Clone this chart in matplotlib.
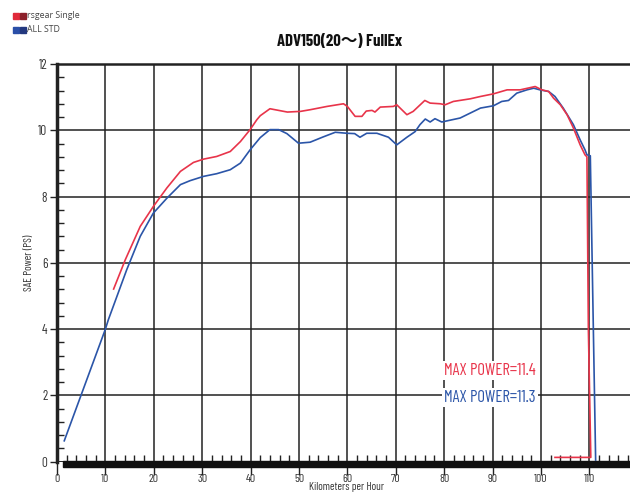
import matplotlib
matplotlib.use("Agg")
import matplotlib.pyplot as plt
from matplotlib.patches import Rectangle
from matplotlib.ticker import MultipleLocator

# ---- data ----
title = "ADV150(20～) FullEx"
series_names = ["rsgear Single", "ALL STD"]
max_labels = ["MAX POWER=11.4", "MAX POWER=11.3"]

red_kmh = [11.7, 14.1, 17.2, 19.9, 22.7, 25.5, 28.2, 30.3, 33.0, 35.8, 37.9, 39.9, 41.3,
           42.0, 44.0, 47.6, 50.3, 52.3, 55.8, 59.2, 60.0, 61.6, 63.0, 63.9, 65.1, 65.7,
           66.8, 69.5, 70.2, 72.3, 73.6, 76.0, 77.1, 79.2, 80.2, 81.9, 85.4, 87.5, 90.2,
           93.0, 95.7, 98.8, 100.2, 101.6, 102.6, 104.0, 105.4, 106.7, 108.1, 109.1, 109.5,
           109.8, 110.3, 110.3, 102.9]
red_ps = [5.21, 6.09, 7.10, 7.70, 8.26, 8.76, 9.03, 9.13, 9.21, 9.36, 9.66, 10.02, 10.32,
          10.44, 10.65, 10.55, 10.57, 10.62, 10.72, 10.80, 10.72, 10.42, 10.42, 10.58, 10.60, 10.55,
          10.70, 10.72, 10.77, 10.47, 10.57, 10.90, 10.82, 10.80, 10.77, 10.87, 10.95, 11.02, 11.10,
          11.22, 11.22, 11.32, 11.22, 11.17, 10.97, 10.77, 10.47, 10.07, 9.56, 9.26, 9.20,
          3.98, 0.13, 0.13, 0.13]

blue_kmh = [1.5, 10.0, 10.6, 14.4, 17.2, 19.9, 22.7, 25.5, 27.5, 30.3, 33.0, 35.8, 37.9, 39.9,
            42.0, 44.0, 45.8, 47.5, 49.9, 52.3, 55.0, 57.5, 59.9, 61.5, 62.6, 64.0, 66.1, 68.5,
            70.2, 72.3, 74.0, 75.0, 76.1, 77.1, 78.1, 79.5, 83.3, 85.4, 87.5, 90.2, 91.9, 93.3,
            95.0, 97.1, 98.5, 99.8, 101.6, 102.9, 104.6, 106.7, 108.1, 109.1, 109.5, 110.2, 111.3]
blue_ps = [0.63, 4.00, 4.28, 5.79, 6.80, 7.50, 7.95, 8.36, 8.48, 8.61, 8.69, 8.81, 9.01, 9.41,
           9.78, 10.02, 10.02, 9.90, 9.61, 9.64, 9.80, 9.94, 9.91, 9.90, 9.79, 9.91, 9.91, 9.79,
           9.56, 9.79, 9.96, 10.17, 10.34, 10.25, 10.35, 10.25, 10.37, 10.52, 10.67, 10.74, 10.87, 10.90,
           11.12, 11.22, 11.27, 11.22, 11.17, 11.02, 10.67, 10.17, 9.71, 9.41, 9.26, 9.23, 0.05]

RED = "#e8344a"
BLUE = "#2b55a8"
NARROW = ["Barlow Condensed", "Archivo Narrow", "Noto Sans CJK JP", "DejaVu Sans"]

fig = plt.figure(figsize=(6.3, 4.93), dpi=100)
ax = fig.add_axes([57 / 630, 1 - 461.7 / 493, 573 / 630, 397.7 / 493])
ax.set_xlim(0, 118.4)
ax.set_ylim(0, 12)

# grid
ax.xaxis.set_major_locator(MultipleLocator(10))
ax.yaxis.set_major_locator(MultipleLocator(2))
ax.xaxis.set_minor_locator(MultipleLocator(2))
ax.yaxis.set_minor_locator(MultipleLocator(0.4))
ax.grid(True, which="major", color="#222222", linewidth=1.1, zorder=1)

for s in ["right", "bottom"]:
    ax.spines[s].set_visible(False)
ax.spines["left"].set_linewidth(2.5)
ax.spines["top"].set_linewidth(1.8)
ax.spines["left"].set_color("#222222")
ax.spines["top"].set_color("#222222")

ax.tick_params(axis="x", which="minor", direction="in", length=5, width=1, color="#222222")
ax.tick_params(axis="x", which="major", direction="out", length=9, width=1, color="#222222",
               labelsize=8.5, pad=0)
ax.tick_params(axis="y", which="minor", direction="in", length=5, width=1, color="#222222")
ax.tick_params(axis="y", which="major", direction="out", length=5, width=1, color="#222222",
               labelsize=9.5, pad=2)
for lab in ax.get_xticklabels() + ax.get_yticklabels():
    lab.set_family(NARROW)
    lab.set_color("#333333")

# black band under the x axis
ax.add_patch(Rectangle((1.3, -0.17), 120, 0.19, transform=ax.transData, color="#111111",
                       clip_on=False, zorder=5))
ax.axhline(0, color="#222222", lw=1.2, zorder=4)

ax.plot(blue_kmh, blue_ps, color=BLUE, lw=1.2, zorder=3)
ax.plot(red_kmh, red_ps, color=RED, lw=1.2, zorder=3.5)

fig.text(347 / 630, 0.5 / 493, "Kilometers per Hour", ha="center", va="bottom",
         family=NARROW, fontsize=8, color="#333333")
ax.set_ylabel("SAE Power (PS)", family=NARROW, fontsize=8, color="#333333", labelpad=3)

ax.text(89.5, 2.75, max_labels[0], color=RED, family=NARROW, fontsize=12, ha="center",
        va="center", zorder=6, bbox=dict(facecolor="white", edgecolor="none", pad=1.5))
ax.text(89.5, 1.95, max_labels[1], color=BLUE, family=NARROW, fontsize=12, ha="center",
        va="center", zorder=6, bbox=dict(facecolor="white", edgecolor="none", pad=1.5))

fig.text(340 / 630, 1 - 42 / 493, title, ha="center", va="center", family=NARROW,
         fontsize=12, fontweight="bold", color="#111111")

# legend
legend_cols = [("#e02a3a", "#8b1f2a"), ("#2a4fa8", "#23387f")]
for i, (name, cols) in enumerate(zip(series_names, legend_cols)):
    yc = 1 - (15.5 + 14 * i) / 493
    for j, c in enumerate(cols):
        fig.patches.append(Rectangle(((12.7 + 7 * j) / 630, yc - 3 / 493), 6 / 630, 6 / 493,
                                     transform=fig.transFigure, color=c))
    fig.text(26.5 / 630, yc, name, ha="left", va="center", fontsize=6.3,
             family=["Open Sans", "DejaVu Sans"], color="#444444")

fig.savefig("out.png", dpi=100)
